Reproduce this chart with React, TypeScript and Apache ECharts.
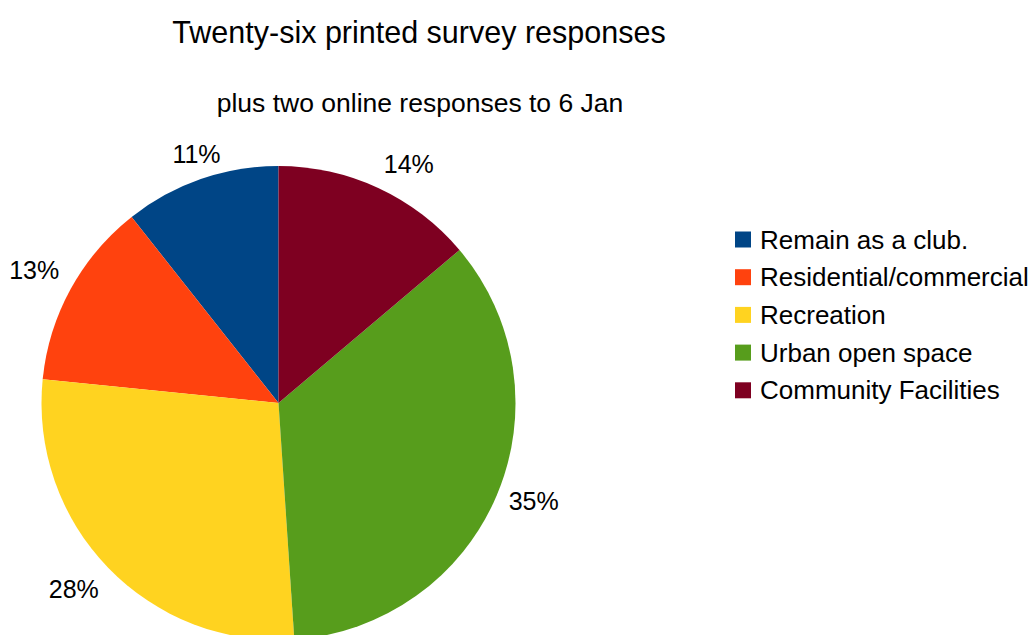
import React, { useEffect, useRef } from "react";
import * as echarts from "echarts";

const categories = [
  "Remain as a club.",
  "Residential/commercial",
  "Recreation",
  "Urban open space",
  "Community Facilities",
];
const responses = [10, 12, 26, 33, 13];
const colors = ["#004586", "#ff420e", "#ffd320", "#579d1c", "#7e0021"];
const titleText = "Twenty-six printed survey responses";
const subtitleText = "plus two online responses to 6 Jan";

const FONT = "'Liberation Sans', Arial, sans-serif";
const CX = 278.5;
const CY = 403;
const R = 237;
const LABEL_GAP = 13;

export default function App() {
  const ref = useRef<HTMLDivElement>(null);
  useEffect(() => {
    const chart = echarts.init(ref.current!, null, { renderer: "svg" });
    const total = responses.reduce((a, b) => a + b, 0);
    chart.setOption({
      animation: false,
      color: colors,
      title: [
        {
          text: titleText,
          left: 419,
          top: 16,
          textAlign: "center",
          padding: 0,
          textStyle: { fontFamily: FONT, fontSize: 30.5, fontWeight: "normal", color: "#000" },
        },
        {
          text: subtitleText,
          left: 420,
          top: 89,
          textAlign: "center",
          padding: 0,
          textStyle: { fontFamily: FONT, fontSize: 26.5, fontWeight: "normal", color: "#000" },
        },
      ],
      legend: {
        orient: "vertical",
        left: 735,
        top: 226.5,
        padding: 0,
        itemWidth: 16,
        itemHeight: 16,
        itemGap: 11.7,
        icon: "rect",
        selectedMode: false,
        data: categories,
        textStyle: { fontFamily: FONT, fontSize: 26, color: "#000", padding: [0, 0, 0, 4] },
      },
      series: [
        {
          type: "pie",
          center: [CX, CY],
          radius: R,
          startAngle: 90,
          clockwise: false,
          avoidLabelOverlap: false,
          emphasis: { disabled: true },
          itemStyle: { borderWidth: 0 },
          data: categories.map((name, i) => ({ name, value: responses[i] })),
          label: {
            show: true,
            position: "outside",
            fontFamily: FONT,
            fontSize: 25,
            color: "#000",
            formatter: (p: any) => Math.round((p.value / total) * 100) + "%",
          },
          labelLine: { show: true, length: LABEL_GAP, length2: 0, lineStyle: { opacity: 0 } },
          labelLayout: (params: any) => {
            let ux = 0;
            let uy = 0;
            const pts = params.labelLinePoints;
            if (pts && pts[0]) {
              ux = pts[0][0] - CX;
              uy = pts[0][1] - CY;
            } else if (params.labelRect) {
              const r = params.labelRect;
              ux = r.x + r.width / 2 - CX;
              uy = r.y + r.height / 2 - CY;
            } else {
              return {};
            }
            const len = Math.hypot(ux, uy) || 1;
            ux /= len;
            uy /= len;
            const d = R + LABEL_GAP;
            const T = 0.405;
            return {
              x: CX + ux * d,
              y: CY + uy * d,
              align: Math.abs(ux) < T ? "center" : ux > 0 ? "left" : "right",
              verticalAlign: Math.abs(uy) < T ? "middle" : uy > 0 ? "top" : "bottom",
            };
          },
        },
      ],
    });
    return () => chart.dispose();
  }, []);
  return (
    <div
      ref={ref}
      style={{ position: "absolute", left: 0, top: 0, width: 1031, height: 635 }}
    />
  );
}
